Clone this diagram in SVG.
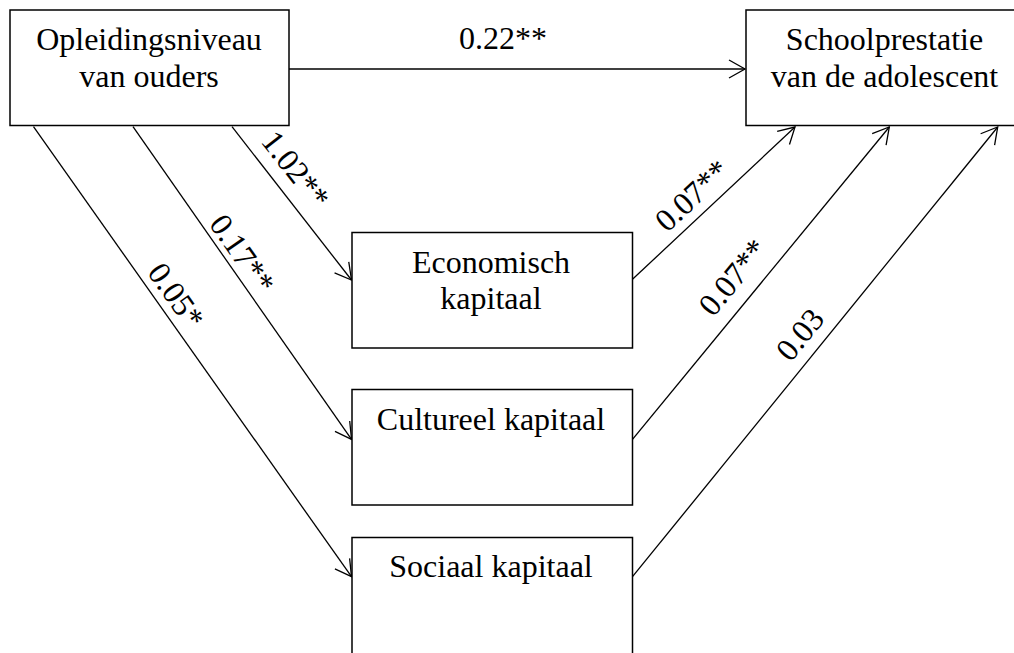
<svg xmlns="http://www.w3.org/2000/svg" width="1014" height="653" viewBox="0 0 1014 653">
  <style>
    .box { fill: #ffffff; stroke: #000000; stroke-width: 1.5; }
    .lbl { font-family: "Liberation Serif", "Times New Roman", serif; font-size: 32px; fill: #000000; text-anchor: middle; }
    .edge { stroke: #000000; stroke-width: 1.3; fill: none; marker-end: url(#arr); }
  </style>
  <defs>
    <marker id="arr" markerUnits="userSpaceOnUse" markerWidth="20" markerHeight="22" refX="17" refY="10" orient="auto">
      <path d="M1,1 L17,10 L1,19" fill="none" stroke="#000000" stroke-width="1.3"/>
    </marker>
  </defs>
  <rect x="0" y="0" width="1014" height="653" fill="#ffffff"/>

  <g id="connectors">
    <line class="edge" x1="289" y1="69" x2="745" y2="69"/>
    <line class="edge" x1="232" y1="126.7" x2="351.5" y2="280"/>
    <line class="edge" x1="133" y1="126.7" x2="351.5" y2="439.3"/>
    <line class="edge" x1="33.5" y1="126.7" x2="351.5" y2="576.7"/>
    <line class="edge" x1="632.5" y1="279.3" x2="795" y2="127"/>
    <line class="edge" x1="632.5" y1="439.3" x2="889.3" y2="127"/>
    <line class="edge" x1="632.5" y1="576.7" x2="997.7" y2="127"/>
    <text class="lbl" x="503" y="49">0.22**</text>
    <text class="lbl" x="287.2" y="176.2" transform="rotate(51.9 287.2 176.2)">1.02**</text>
    <text class="lbl" x="233.5" y="260" transform="rotate(55 233.5 260)">0.17**</text>
    <text class="lbl" x="167.4" y="301.8" transform="rotate(54.7 167.4 301.8)">0.05*</text>
    <text class="lbl" x="699.3" y="203.3" transform="rotate(-43.1 699.3 203.3)">0.07**</text>
    <text class="lbl" x="741.3" y="284" transform="rotate(-50.5 741.3 284)">0.07**</text>
    <text class="lbl" x="808.3" y="341.2" transform="rotate(-50.9 808.3 341.2)">0.03</text>
  </g>

  <g id="node-ouders">
    <rect class="box" x="10" y="10" width="279" height="115.5"/>
    <text class="lbl" x="149" y="50">Opleidingsniveau</text>
    <text class="lbl" x="149" y="87">van ouders</text>
  </g>
  <g id="node-schoolprestatie">
    <rect class="box" x="746" y="10" width="280" height="115.5"/>
    <text class="lbl" x="884.5" y="50">Schoolprestatie</text>
    <text class="lbl" x="884.5" y="87">van de adolescent</text>
  </g>
  <g id="node-economisch">
    <rect class="box" x="352" y="232.5" width="280.5" height="115.5"/>
    <text class="lbl" x="491" y="273">Economisch</text>
    <text class="lbl" x="491" y="308.5">kapitaal</text>
  </g>
  <g id="node-cultureel">
    <rect class="box" x="352" y="389.5" width="280.5" height="115.5"/>
    <text class="lbl" x="491" y="429.5">Cultureel kapitaal</text>
  </g>
  <g id="node-sociaal">
    <rect class="box" x="352" y="537.5" width="280.5" height="125"/>
    <text class="lbl" x="491" y="577">Sociaal kapitaal</text>
  </g>
</svg>
